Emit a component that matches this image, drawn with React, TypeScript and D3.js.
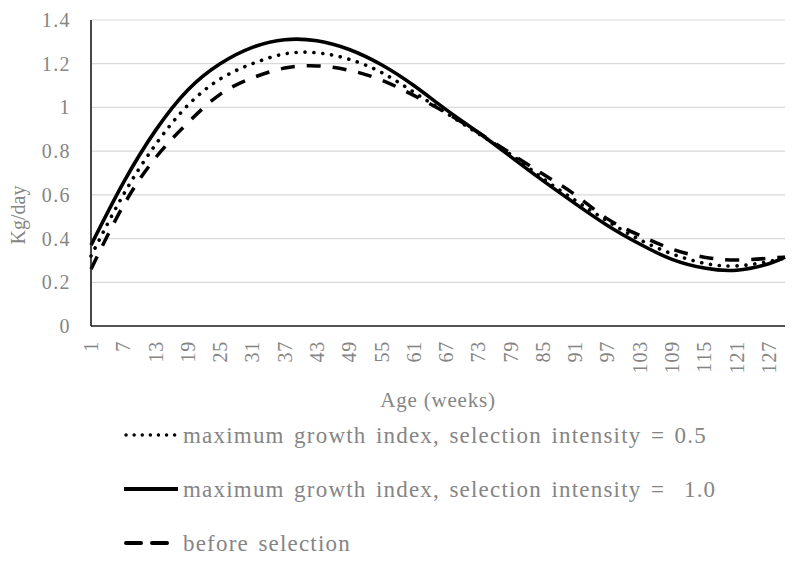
import { useEffect, useRef } from 'react';
import * as d3 from 'd3';

const weeks = [1, 7, 13, 19, 25, 31, 37, 43, 49, 55, 61, 67, 73, 79, 85, 91, 97, 103, 109, 115, 121, 127, 130];

// maximum growth index, selection intensity = 0.5
const dotted05 = [0.32, 0.60, 0.83, 1.01, 1.13, 1.20, 1.245, 1.25, 1.22, 1.16, 1.07, 0.975, 0.88, 0.785, 0.675, 0.575, 0.48, 0.395, 0.33, 0.287, 0.275, 0.295, 0.31];
// maximum growth index, selection intensity = 1.0
const solid10 = [0.37, 0.655, 0.895, 1.08, 1.20, 1.275, 1.31, 1.305, 1.265, 1.195, 1.10, 0.99, 0.885, 0.775, 0.665, 0.56, 0.46, 0.375, 0.305, 0.265, 0.255, 0.285, 0.315];
// before selection
const beforeSel = [0.26, 0.55, 0.77, 0.93, 1.06, 1.135, 1.18, 1.19, 1.17, 1.125, 1.055, 0.975, 0.885, 0.79, 0.695, 0.60, 0.49, 0.415, 0.352, 0.315, 0.302, 0.31, 0.315];

const xTicks = d3.range(1, 128, 6);
const yTicks = [0, 0.2, 0.4, 0.6, 0.8, 1, 1.2, 1.4];

const legendLabels = [
    'maximum growth index, selection intensity = 0.5',
    'maximum growth index, selection intensity =  1.0',
    'before selection',
];

const App = () => {
    const svgRef = useRef<SVGSVGElement>(null);

    useEffect(() => {
        if (!svgRef.current) return;
        const svg = d3.select(svgRef.current);
        svg.selectAll('*').remove();

        const font = '"Liberation Serif", "DejaVu Serif", serif';
        const textColor = '#858585';

        const x = d3.scaleLinear().domain([1, 130]).range([91, 785]);
        const y = d3.scaleLinear().domain([0, 1.4]).range([326, 20]);

        // grid lines
        svg.append('g')
            .selectAll('line')
            .data(yTicks.filter(d => d > 0))
            .join('line')
            .attr('x1', x(1))
            .attr('x2', x(130))
            .attr('y1', d => y(d))
            .attr('y2', d => y(d))
            .attr('stroke', '#d9d9d9')
            .attr('stroke-width', 1.2);

        // y tick labels
        svg.append('g')
            .selectAll('text')
            .data(yTicks)
            .join('text')
            .attr('x', 71)
            .attr('y', d => y(d))
            .attr('dy', '0.35em')
            .attr('text-anchor', 'end')
            .attr('font-family', font)
            .attr('font-size', 20)
            .attr('letter-spacing', 1.4)
            .attr('fill', textColor)
            .text(d => d3.format('~g')(d));

        // x tick labels, rotated
        svg.append('g')
            .selectAll('text')
            .data(xTicks)
            .join('text')
            .attr('transform', d => `translate(${x(d)},341) rotate(-90)`)
            .attr('dy', '0.35em')
            .attr('text-anchor', 'end')
            .attr('font-family', font)
            .attr('font-size', 20)
            .attr('letter-spacing', 0.8)
            .attr('fill', textColor)
            .text(d => d);

        // series
        const series = [
            { values: beforeSel, dash: '14 12', cap: 'butt', width: 3.5 },
            { values: dotted05, dash: '0.1 8.8', cap: 'round', width: 3.6 },
            { values: solid10, dash: null, cap: 'butt', width: 3.6 },
        ];

        const line = d3.line<number>()
            .x((_, i) => x(weeks[i]))
            .y(d => y(d))
            .curve(d3.curveNatural);

        series.forEach(s => {
            svg.append('path')
                .datum(s.values)
                .attr('d', line)
                .attr('fill', 'none')
                .attr('stroke', '#000')
                .attr('stroke-width', s.width)
                .attr('stroke-linecap', s.cap)
                .attr('stroke-dasharray', s.dash);
        });

        // axes lines
        svg.append('line')
            .attr('x1', x(1)).attr('x2', x(1))
            .attr('y1', y(1.4)).attr('y2', y(0))
            .attr('stroke', '#1a1a1a')
            .attr('stroke-width', 1.6);
        svg.append('line')
            .attr('x1', x(1)).attr('x2', x(130))
            .attr('y1', y(0)).attr('y2', y(0))
            .attr('stroke', '#1a1a1a')
            .attr('stroke-width', 1.6);

        // axis titles
        svg.append('text')
            .attr('x', 438)
            .attr('y', 407)
            .attr('text-anchor', 'middle')
            .attr('font-family', font)
            .attr('font-size', 21)
            .attr('letter-spacing', 0.8)
            .attr('fill', textColor)
            .text('Age (weeks)');

        svg.append('text')
            .attr('transform', 'translate(18,215) rotate(-90)')
            .attr('dy', '0.35em')
            .attr('text-anchor', 'middle')
            .attr('font-family', font)
            .attr('font-size', 20)
            .attr('fill', textColor)
            .text('Kg/day');

        // legend
        const legendStyles = [
            { dash: '0.1 8', cap: 'round', width: 3.4 },
            { dash: null, cap: 'butt', width: 4 },
            { dash: '15 11', cap: 'round', width: 4 },
        ];
        const legendY = [435, 489, 543];

        legendLabels.forEach((label, i) => {
            const st = legendStyles[i];
            svg.append('line')
                .attr('x1', i === 1 ? 124 : 126)
                .attr('x2', 178)
                .attr('y1', legendY[i])
                .attr('y2', legendY[i])
                .attr('stroke', '#000')
                .attr('stroke-width', st.width)
                .attr('stroke-linecap', st.cap)
                .attr('stroke-dasharray', st.dash);
            svg.append('text')
                .attr('x', 183)
                .attr('y', legendY[i])
                .attr('dy', '0.35em')
                .attr('font-family', font)
                .attr('font-size', 23)
                .attr('letter-spacing', 1.2)
                .attr('word-spacing', 2.5)
                .attr('fill', textColor)
                .style('white-space', 'pre')
                .text(label);
        });
    }, []);

    return (
        <svg
            ref={svgRef}
            width={794}
            height={561}
            style={{ position: 'absolute', left: 0, top: 0, background: '#fff' }}
        ></svg>
    );
};

export default App;
